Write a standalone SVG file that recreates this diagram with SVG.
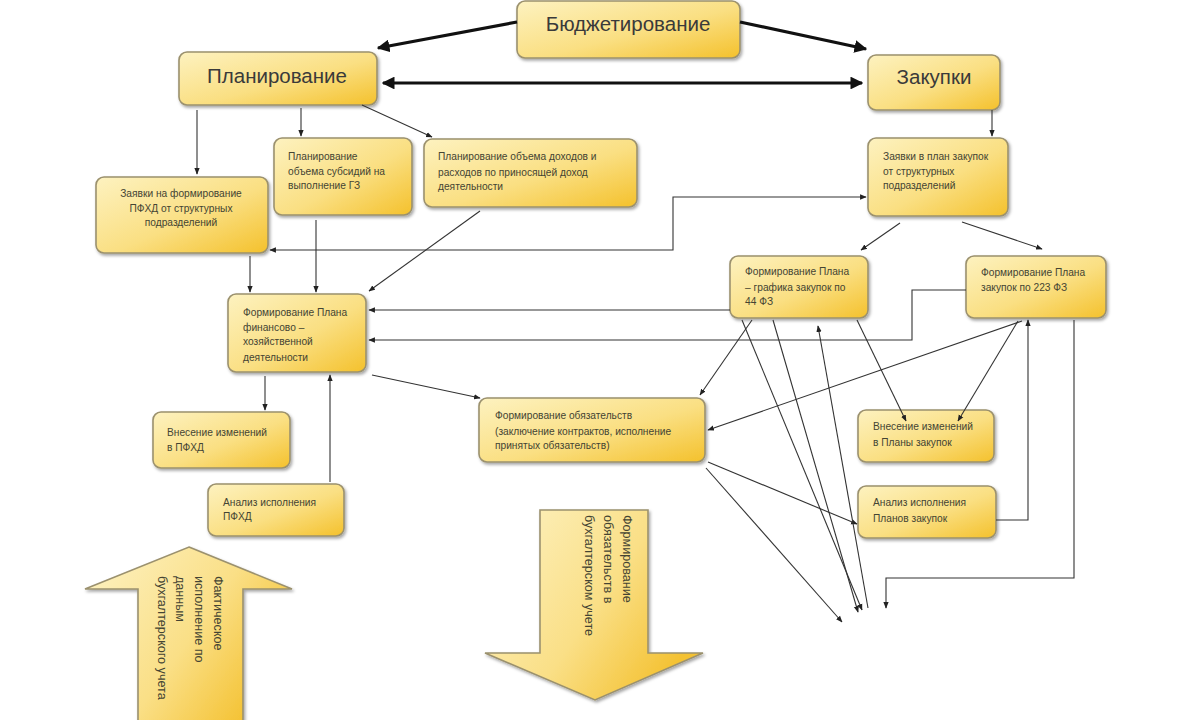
<svg xmlns="http://www.w3.org/2000/svg" width="1200" height="720" viewBox="0 0 1200 720">
<defs>
<linearGradient id="g" x1="0" y1="0" x2="1" y2="1">
<stop offset="0" stop-color="#fdf2c0"/>
<stop offset="0.55" stop-color="#fadf82"/>
<stop offset="1" stop-color="#f4c12c"/>
</linearGradient>
<linearGradient id="ga" x1="0" y1="0" x2="1" y2="0.6">
<stop offset="0" stop-color="#fdf3c6"/>
<stop offset="0.6" stop-color="#fadf86"/>
<stop offset="1" stop-color="#f4c233"/>
</linearGradient>
<filter id="sh" x="-10%" y="-10%" width="130%" height="140%">
<feDropShadow dx="1.5" dy="2" stdDeviation="1.5" flood-color="#000" flood-opacity="0.35"/>
</filter>
<marker id="a" viewBox="0 0 10 10" refX="9" refY="5" markerWidth="6" markerHeight="6" orient="auto-start-reverse">
<path d="M0,1 L10,5 L0,9 z" fill="#222"/>
</marker>
<marker id="b" viewBox="0 0 10 10" refX="9" refY="5" markerWidth="4" markerHeight="4" orient="auto-start-reverse">
<path d="M0,0 L10,5 L0,10 z" fill="#111"/>
</marker>
</defs>
<style>
.box{fill:url(#g);stroke:#9b916e;stroke-width:1.6;filter:url(#sh)}
.big{font-family:"Liberation Sans",Arial,sans-serif;font-size:20.5px;fill:#3a3a3a}
.t{font-family:"Liberation Sans",Arial,sans-serif;font-size:10.2px;fill:#444433}
.v{font-family:"Liberation Sans",Arial,sans-serif;font-size:12.6px;fill:#444433}
.c{fill:none;stroke:#333;stroke-width:1.1;marker-end:url(#a)}
.k{fill:none;stroke:#111;stroke-width:3.2;marker-end:url(#b)}
.arrow{fill:url(#ga);stroke:#9b916e;stroke-width:1.6;filter:url(#sh)}
</style>
<rect width="1200" height="720" fill="#ffffff"/>

<g id="n-budget"><rect class="box" x="517" y="1" width="223" height="57" rx="8"/><text class="big" x="628" y="31" text-anchor="middle">Бюджетирование</text></g>
<g id="n-plan"><rect class="box" x="179" y="52" width="198" height="53" rx="8"/><text class="big" x="277" y="83" text-anchor="middle">Планирование</text></g>
<g id="n-zak"><rect class="box" x="868" y="55" width="132" height="55" rx="8"/><text class="big" x="934" y="84" text-anchor="middle">Закупки</text></g>

<g id="n-zpfhd"><rect class="box" x="96" y="177" width="172" height="76" rx="8"/><text class="t" text-anchor="middle" x="181" y="197">Заявки на формирование<tspan x="181" dy="15">ПФХД от структурных</tspan><tspan x="181" dy="14">подразделений</tspan></text></g>
<g id="n-subs"><rect class="box" x="274" y="138" width="138" height="77" rx="8"/><text class="t" x="288" y="160">Планирование<tspan x="288" dy="15">объема субсидий на</tspan><tspan x="288" dy="14">выполнение ГЗ</tspan></text></g>
<g id="n-doh"><rect class="box" x="424" y="139" width="213" height="68" rx="8"/><text class="t" x="438" y="160">Планирование объема доходов и<tspan x="438" dy="15.5">расходов по приносящей доход</tspan><tspan x="438" dy="14.5">деятельности</tspan></text></g>
<g id="n-zplan"><rect class="box" x="868" y="138" width="140" height="78" rx="8"/><text class="t" x="883" y="160">Заявки в план закупок<tspan x="883" dy="15">от структурных</tspan><tspan x="883" dy="14">подразделений</tspan></text></g>
<g id="n-44"><rect class="box" x="730" y="256" width="138" height="62" rx="8"/><text class="t" x="745" y="275">Формирование Плана<tspan x="745" dy="15.5">– графика закупок по</tspan><tspan x="745" dy="14.5">44 ФЗ</tspan></text></g>
<g id="n-223"><rect class="box" x="966" y="256" width="140" height="62" rx="8"/><text class="t" x="981" y="276">Формирование Плана<tspan x="981" dy="14.5">закупок по 223 ФЗ</tspan></text></g>
<g id="n-pfhd"><rect class="box" x="228" y="294" width="138" height="78" rx="8"/><text class="t" x="243" y="316">Формирование Плана<tspan x="243" dy="14.5">финансово –</tspan><tspan x="243" dy="14.5">хозяйственной</tspan><tspan x="243" dy="15.5">деятельности</tspan></text></g>
<g id="n-izm"><rect class="box" x="153" y="412" width="137" height="56" rx="8"/><text class="t" x="167" y="436">Внесение изменений<tspan x="167" dy="15">в ПФХД</tspan></text></g>
<g id="n-an"><rect class="box" x="208" y="484" width="136" height="52" rx="8"/><text class="t" x="223" y="506">Анализ исполнения<tspan x="223" dy="14">ПФХД</tspan></text></g>
<g id="n-obl"><rect class="box" x="479" y="398" width="226" height="64" rx="8"/><text class="t" x="495" y="419">Формирование обязательств<tspan x="495" dy="15.5">(заключение контрактов, исполнение</tspan><tspan x="495" dy="14.5">принятых обязательств)</tspan></text></g>
<g id="n-izmz"><rect class="box" x="858" y="410" width="136" height="52" rx="8"/><text class="t" x="873" y="430">Внесение изменений<tspan x="873" dy="16">в Планы закупок</tspan></text></g>
<g id="n-anz"><rect class="box" x="858" y="486" width="138" height="52" rx="8"/><text class="t" x="873" y="506">Анализ исполнения<tspan x="873" dy="16">Планов закупок</tspan></text></g>

<g id="n-up">
<polygon class="arrow" points="189,547 292,589 243,589 243,724 138,724 138,589 85,589"/>
<text class="v" transform="translate(214,576) rotate(90)">Фактическое<tspan x="0" dy="19">исполнение по</tspan><tspan x="0" dy="19">данным</tspan><tspan x="0" dy="18">бухгалтерского учета</tspan></text>
</g>
<g id="n-down">
<polygon class="arrow" points="540,510 648,510 648,653 703,653 595,700 485,653 540,653"/>
<text class="v" transform="translate(623,515) rotate(90)">Формирование<tspan x="0" dy="19.5">обязательств в</tspan><tspan x="0" dy="19">бухгалтерском учете</tspan></text>
</g>

<g id="connectors">
<line class="k" x1="517" y1="22" x2="378" y2="48"/>
<line class="k" x1="740" y1="22" x2="866" y2="49"/>
<line class="k" x1="383" y1="83" x2="862" y2="83" style="marker-start:url(#b)"/>
<line class="c" x1="197" y1="110" x2="197" y2="174"/>
<line class="c" x1="301" y1="108" x2="301" y2="136"/>
<line class="c" x1="362" y1="105" x2="432" y2="137"/>
<line class="c" x1="992" y1="110" x2="992" y2="136"/>
<line class="c" x1="250" y1="256" x2="250" y2="292"/>
<line class="c" x1="316" y1="220" x2="316" y2="292"/>
<line class="c" x1="480" y1="211" x2="369" y2="291"/>
<polyline class="c" points="270,250 673,250 673,197 866,197" style="marker-start:url(#a)"/>
<line class="c" x1="900" y1="223" x2="861" y2="250"/>
<line class="c" x1="962" y1="222" x2="1042" y2="249"/>
<line class="c" x1="730" y1="310" x2="369" y2="310"/>
<polyline class="c" points="966,290 912,290 912,340 369,340"/>
<line class="c" x1="372" y1="375" x2="480" y2="398"/>
<line class="c" x1="265" y1="376" x2="265" y2="410"/>
<line class="c" x1="330" y1="482" x2="330" y2="375"/>
<line class="c" x1="752" y1="320" x2="700" y2="395"/>
<line class="c" x1="1022" y1="321" x2="708" y2="430"/>
<line class="c" x1="857" y1="320" x2="906" y2="421"/>
<line class="c" x1="1018" y1="321" x2="958" y2="421"/>
<polyline class="c" points="996,520 1028,520 1028,320"/>
<line class="c" x1="708" y1="462" x2="857" y2="524"/>
<line class="c" x1="706" y1="468" x2="842" y2="622"/>
<line class="c" x1="742" y1="320" x2="862" y2="610"/>
<line class="c" x1="773" y1="320" x2="858" y2="612"/>
<line class="c" x1="868" y1="608" x2="818" y2="326"/>
<polyline class="c" points="1074,320 1074,578 886,578 886,608"/>
</g>
</svg>
